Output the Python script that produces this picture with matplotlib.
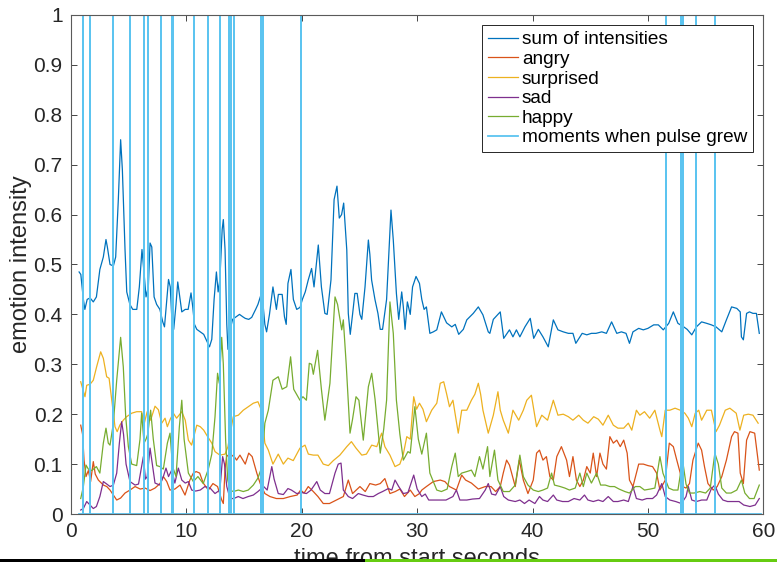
import numpy as np
import matplotlib.pyplot as plt
from matplotlib.patches import Rectangle

plt.rcParams['font.family'] = ['Liberation Sans', 'DejaVu Sans']

# sum of intensities
sum_t = [0.7, 0.85, 1.07, 1.2, 1.4, 1.65, 1.93, 2.2, 2.5, 2.8, 3.03, 3.15, 3.38, 3.67, 3.87, 4.1, 4.3, 4.45,
         4.68, 4.83, 5.1, 5.35, 5.7, 5.92, 6.15, 6.33, 6.5, 6.7, 6.85, 7.0, 7.2, 7.42, 7.7, 7.95, 8.1, 8.3,
         8.45, 8.6, 8.72, 8.9, 9.1, 9.25, 9.45, 9.6, 9.9, 10.15, 10.4, 10.55, 10.7, 10.9, 11.2, 11.5, 11.8,
         12.0, 12.2, 12.4, 12.6, 12.75, 12.9, 13.1, 13.2, 13.35, 13.5, 13.6, 13.8, 14.0, 14.3, 14.6, 14.9,
         15.1, 15.4, 15.66, 16.0, 16.2, 16.5, 16.6, 16.8, 16.95, 17.2, 17.5, 17.8, 17.97, 18.3, 18.5, 18.65,
         18.8, 19.06, 19.27, 19.56, 19.85, 20.05, 20.3, 20.56, 20.85, 21.06, 21.43, 21.7, 22.0, 22.2, 22.53,
         22.8, 23.05, 23.25, 23.45, 23.63, 23.9, 24.03, 24.2, 24.4, 24.6, 24.8, 25.04, 25.2, 25.48, 25.77,
         25.9, 26.05, 26.34, 26.6, 26.8, 27.0, 27.35, 27.73, 27.93, 28.2, 28.4, 28.66, 28.8, 28.95, 29.15,
         29.4, 29.6, 29.9, 30.2, 30.4, 30.6, 30.8, 31.1, 31.4, 31.7, 32.1, 32.55, 33.0, 33.3, 33.6, 34.0,
         34.3, 34.86, 35.3, 35.7, 36.16, 36.3, 36.6, 37.0, 37.2, 37.5, 38.0, 38.3, 38.6, 38.9, 39.34, 39.8,
         40.1, 40.5, 40.9, 41.36, 41.8, 42.2, 42.66, 43.1, 43.5, 43.75, 44.3, 44.7, 45.1, 45.5, 46.0, 46.4,
         46.85, 47.3, 47.7, 48.1, 48.4, 48.7, 49.2, 49.6, 50.0, 50.5, 50.9, 51.33, 51.8, 52.2, 52.6, 53.1,
         53.4, 53.8, 54.2, 54.65, 55.1, 55.5, 55.9, 56.4, 56.8, 57.25, 57.7, 58.0, 58.1, 58.27, 58.55, 58.8,
         59.1, 59.4, 59.65]
sum_v = [0.485, 0.48, 0.43, 0.41, 0.43, 0.433, 0.425, 0.435, 0.49, 0.515, 0.55, 0.535, 0.50, 0.497, 0.515,
         0.63, 0.75, 0.69, 0.53, 0.445, 0.42, 0.41, 0.41, 0.455, 0.53, 0.483, 0.435, 0.455, 0.543, 0.535,
         0.435, 0.42, 0.41, 0.385, 0.375, 0.43, 0.47, 0.455, 0.40, 0.37, 0.42, 0.465, 0.43, 0.405, 0.41,
         0.41, 0.443, 0.415, 0.38, 0.37, 0.365, 0.36, 0.345, 0.335, 0.35, 0.43, 0.485, 0.445, 0.47, 0.57,
         0.59, 0.53, 0.38, 0.33, 0.37, 0.39, 0.395, 0.40, 0.395, 0.392, 0.39, 0.394, 0.41, 0.42, 0.442,
         0.43, 0.38, 0.365, 0.40, 0.455, 0.41, 0.44, 0.44, 0.395, 0.38, 0.462, 0.49, 0.43, 0.41, 0.414,
         0.43, 0.445, 0.469, 0.492, 0.455, 0.539, 0.455, 0.402, 0.40, 0.469, 0.63, 0.657, 0.593, 0.60,
         0.623, 0.529, 0.402, 0.36, 0.40, 0.442, 0.442, 0.40, 0.39, 0.455, 0.549, 0.52, 0.469, 0.43, 0.402,
         0.37, 0.37, 0.43, 0.609, 0.549, 0.442, 0.39, 0.445, 0.415, 0.37, 0.425, 0.40, 0.455, 0.476, 0.462,
         0.43, 0.41, 0.415, 0.362, 0.365, 0.369, 0.405, 0.383, 0.375, 0.38, 0.36, 0.37, 0.389, 0.402, 0.415,
         0.399, 0.365, 0.362, 0.39, 0.40, 0.405, 0.352, 0.369, 0.355, 0.369, 0.355, 0.375, 0.392, 0.352,
         0.37, 0.355, 0.335, 0.389, 0.369, 0.365, 0.362, 0.362, 0.342, 0.362, 0.359, 0.362, 0.362, 0.365,
         0.362, 0.385, 0.362, 0.365, 0.362, 0.342, 0.365, 0.372, 0.369, 0.372, 0.379, 0.379, 0.369, 0.382,
         0.405, 0.382, 0.375, 0.37, 0.359, 0.375, 0.385, 0.382, 0.379, 0.375, 0.365, 0.389, 0.415, 0.412,
         0.405, 0.355, 0.349, 0.402, 0.405, 0.402, 0.402, 0.362]

# angry
angry_t = [0.84, 1.0, 1.13, 1.3, 1.5, 1.7, 1.93, 2.1, 2.37, 2.8, 3.1, 3.38, 3.67, 3.96, 4.3, 4.68, 5.11, 5.55,
           6.0, 6.41, 6.85, 7.28, 7.71, 8.0, 8.3, 8.58, 9.0, 9.45, 9.88, 10.3, 10.6, 10.85, 11.15, 11.46,
           11.9, 12.3, 12.7, 13.06, 13.2, 13.35, 13.5, 13.8, 14.06, 14.35, 14.64, 15.1, 15.4, 15.7, 16.1,
           16.4, 16.8, 17.24, 17.8, 18.4, 19.0, 19.6, 19.9, 20.2, 20.56, 21.0, 21.4, 21.86, 22.4, 23.0, 23.6,
           24.03, 24.4, 25.04, 25.5, 25.9, 26.4, 26.8, 27.2, 27.64, 28.1, 28.5, 28.9, 29.4, 29.8, 30.2, 30.4,
           30.8, 31.4, 32.0, 32.4, 32.8, 33.4, 33.86, 34.2, 34.7, 35.3, 35.9, 36.4, 36.8, 37.2, 37.46, 37.75,
           38.0, 38.5, 38.85, 39.2, 39.6, 40.06, 40.35, 40.6, 40.9, 41.2, 41.5, 41.8, 42.1, 42.5, 42.95, 43.2,
           43.5, 43.8, 44.1, 44.4, 44.7, 45.0, 45.26, 45.55, 45.84, 46.1, 46.4, 46.7, 47.0, 47.3, 47.6, 47.9,
           48.2, 48.4, 48.7, 49.2, 49.6, 50.0, 50.4, 50.75, 51.04, 51.5, 51.85, 52.2, 52.5, 52.8, 53.0, 53.3,
           53.6, 53.9, 54.36, 54.65, 54.9, 55.2, 55.66, 56.0, 56.4, 56.8, 57.25, 57.5, 57.8, 58.0, 58.27,
           58.55, 58.84, 59.25, 59.47, 59.65]
angry_v = [0.178, 0.16, 0.108, 0.075, 0.087, 0.065, 0.105, 0.08, 0.068, 0.058, 0.055, 0.048, 0.038, 0.028,
           0.032, 0.042, 0.048, 0.055, 0.05, 0.052, 0.047, 0.052, 0.061, 0.075, 0.065, 0.048, 0.05, 0.058,
           0.038, 0.068, 0.082, 0.085, 0.082, 0.062, 0.048, 0.061, 0.055, 0.028, 0.021, 0.09, 0.118, 0.113,
           0.118, 0.108, 0.118, 0.10, 0.122, 0.115, 0.082, 0.061, 0.041, 0.035, 0.031, 0.031, 0.035, 0.038,
           0.048, 0.042, 0.055, 0.045, 0.035, 0.021, 0.021, 0.028, 0.035, 0.068, 0.041, 0.055, 0.045, 0.061,
           0.058, 0.061, 0.071, 0.041, 0.045, 0.05, 0.035, 0.048, 0.035, 0.041, 0.048, 0.055, 0.065, 0.068,
           0.065, 0.055, 0.048, 0.078, 0.068, 0.062, 0.05, 0.055, 0.055, 0.045, 0.055, 0.082, 0.108, 0.098,
           0.055, 0.108, 0.068, 0.041, 0.068, 0.122, 0.128, 0.108, 0.115, 0.075, 0.068, 0.115, 0.135, 0.108,
           0.075, 0.115, 0.068, 0.055, 0.068, 0.095, 0.082, 0.122, 0.075, 0.122, 0.1, 0.09, 0.155, 0.142,
           0.148, 0.135, 0.148, 0.122, 0.068, 0.055, 0.10, 0.10, 0.097, 0.095, 0.082, 0.048, 0.068, 0.142,
           0.135, 0.108, 0.082, 0.055, 0.052, 0.061, 0.108, 0.142, 0.128, 0.095, 0.061, 0.048, 0.055, 0.075,
           0.108, 0.155, 0.165, 0.162, 0.082, 0.061, 0.148, 0.165, 0.162, 0.122, 0.088]

# surprised
surprised_t = [0.84, 1.21, 1.36, 1.65, 1.93, 2.22, 2.57, 2.8, 3.09, 3.3, 3.6, 3.81, 4.0, 4.23, 4.53, 4.82, 5.26,
               5.69, 6.12, 6.33, 6.6, 6.9, 7.28, 7.57, 7.86, 8.15, 8.35, 8.6, 8.87, 9.15, 9.6, 9.9, 10.17,
               10.45, 10.9, 11.2, 11.5, 11.76, 12.2, 12.48, 12.9, 13.35, 13.6, 14.06, 14.5, 14.93, 15.36, 15.8,
               16.2, 16.5, 16.8, 17.1, 17.5, 17.96, 18.4, 18.8, 19.26, 19.84, 20.28, 20.57, 21.0, 21.4, 21.86,
               22.3, 22.73, 23.3, 23.9, 24.3, 24.7, 25.2, 25.6, 26.06, 26.5, 26.92, 27.2, 27.64, 28.08, 28.5,
               28.8, 29.1, 29.4, 29.7, 29.95, 30.2, 30.5, 30.8, 31.26, 31.7, 32.0, 32.3, 32.56, 32.8, 33.1,
               33.56, 33.86, 34.3, 34.7, 35.0, 35.3, 35.5, 35.7, 36.16, 36.6, 37.0, 37.2, 37.46, 37.9, 38.3,
               38.8, 39.2, 39.5, 39.9, 40.35, 40.8, 41.3, 41.8, 42.2, 42.66, 43.1, 43.5, 44.0, 44.4, 44.8, 45.3,
               45.7, 46.1, 46.56, 47.0, 47.4, 47.9, 48.3, 48.6, 49.0, 49.3, 49.7, 50.15, 50.6, 51.04, 51.2,
               51.5, 51.9, 52.35, 52.8, 53.2, 53.5, 53.8, 54.1, 54.4, 54.65, 55.1, 55.5, 55.9, 56.2, 56.7, 57.1,
               57.65, 57.97, 58.3, 58.7, 59.1, 59.55]
surprised_v = [0.265, 0.235, 0.258, 0.26, 0.268, 0.295, 0.325, 0.312, 0.275, 0.272, 0.215, 0.175, 0.165, 0.178,
               0.188, 0.195, 0.202, 0.205, 0.205, 0.18, 0.205, 0.188, 0.216, 0.209, 0.182, 0.192, 0.175, 0.19,
               0.202, 0.192, 0.205, 0.188, 0.148, 0.138, 0.178, 0.175, 0.168, 0.158, 0.142, 0.125, 0.118, 0.12,
               0.135, 0.195, 0.198, 0.208, 0.215, 0.222, 0.225, 0.208, 0.142, 0.128, 0.10, 0.12, 0.10, 0.112,
               0.107, 0.132, 0.138, 0.12, 0.118, 0.118, 0.10, 0.097, 0.107, 0.118, 0.135, 0.145, 0.132, 0.118,
               0.12, 0.138, 0.135, 0.162, 0.135, 0.118, 0.095, 0.10, 0.12, 0.155, 0.15, 0.235, 0.21, 0.222,
               0.21, 0.185, 0.208, 0.222, 0.262, 0.265, 0.24, 0.215, 0.228, 0.162, 0.208, 0.208, 0.228, 0.24,
               0.262, 0.24, 0.208, 0.162, 0.198, 0.245, 0.208, 0.188, 0.162, 0.208, 0.188, 0.208, 0.228, 0.238,
               0.175, 0.198, 0.188, 0.228, 0.198, 0.20, 0.195, 0.188, 0.198, 0.188, 0.182, 0.195, 0.19, 0.178,
               0.198, 0.178, 0.172, 0.172, 0.182, 0.168, 0.208, 0.198, 0.205, 0.192, 0.208, 0.168, 0.155, 0.208,
               0.208, 0.212, 0.208, 0.202, 0.192, 0.175, 0.202, 0.208, 0.188, 0.208, 0.208, 0.165, 0.178, 0.208,
               0.212, 0.202, 0.168, 0.198, 0.20, 0.198, 0.182]

# sad
sad_t = [0.84, 1.07, 1.36, 1.65, 1.93, 2.2, 2.5, 2.8, 3.1, 3.38, 3.67, 3.96, 4.19, 4.39, 4.55, 4.77, 5.11, 5.55,
         5.85, 6.12, 6.27, 6.45, 6.6, 6.85, 7.05, 7.28, 7.71, 8.0, 8.23, 8.45, 8.73, 9.0, 9.3, 9.6, 9.9, 10.17,
         10.46, 10.8, 11.2, 11.6, 12.05, 12.48, 12.9, 13.14, 13.3, 13.5, 13.78, 14.1, 14.5, 14.9, 15.36, 15.8,
         16.2, 16.7, 17.0, 17.4, 17.6, 17.96, 18.4, 18.8, 19.1, 19.56, 20.0, 20.4, 20.8, 21.3, 21.6, 22.0,
         22.4, 22.88, 23.16, 23.4, 23.6, 24.03, 24.4, 24.9, 25.3, 25.77, 26.2, 26.63, 27.0, 27.5, 27.8, 28.08,
         28.4, 28.8, 29.2, 29.7, 30.0, 30.4, 30.7, 31.0, 31.5, 32.0, 32.5, 33.1, 33.4, 33.7, 34.3, 34.8, 35.4,
         35.9, 36.16, 36.45, 36.8, 37.2, 37.5, 37.9, 38.5, 38.9, 39.3, 39.7, 40.2, 40.6, 40.9, 41.3, 41.8,
         42.1, 42.6, 43.1, 43.6, 44.1, 44.5, 44.8, 45.26, 45.7, 46.1, 46.56, 47.0, 47.4, 47.9, 48.3, 48.7,
         49.0, 49.5, 49.9, 50.4, 50.75, 51.2, 51.5, 51.9, 52.4, 52.9, 53.3, 53.5, 53.8, 54.2, 54.65, 55.1,
         55.5, 55.8, 56.1, 56.5, 56.9, 57.4, 57.9, 58.3, 58.84, 59.3, 59.65]
sad_v = [0.008, 0.011, 0.025, 0.018, 0.011, 0.015, 0.035, 0.065, 0.06, 0.055, 0.058, 0.082, 0.142, 0.185, 0.16,
         0.10, 0.065, 0.058, 0.06, 0.095, 0.115, 0.07, 0.075, 0.132, 0.10, 0.062, 0.058, 0.075, 0.092, 0.075,
         0.088, 0.062, 0.092, 0.068, 0.062, 0.065, 0.048, 0.046, 0.048, 0.055, 0.052, 0.041, 0.048, 0.115, 0.10,
         0.055, 0.031, 0.031, 0.035, 0.031, 0.035, 0.038, 0.045, 0.055, 0.048, 0.095, 0.07, 0.041, 0.039,
         0.051, 0.048, 0.041, 0.043, 0.041, 0.048, 0.065, 0.048, 0.041, 0.041, 0.082, 0.10, 0.102, 0.048,
         0.035, 0.031, 0.041, 0.038, 0.035, 0.035, 0.041, 0.045, 0.051, 0.048, 0.068, 0.055, 0.041, 0.043,
         0.078, 0.05, 0.035, 0.04, 0.028, 0.028, 0.028, 0.028, 0.035, 0.048, 0.028, 0.028, 0.03, 0.031, 0.048,
         0.061, 0.04, 0.038, 0.055, 0.035, 0.028, 0.025, 0.028, 0.021, 0.028, 0.021, 0.035, 0.028, 0.025,
         0.038, 0.028, 0.025, 0.025, 0.031, 0.028, 0.038, 0.028, 0.025, 0.028, 0.025, 0.035, 0.025, 0.025,
         0.028, 0.025, 0.055, 0.031, 0.028, 0.031, 0.031, 0.038, 0.061, 0.035, 0.028, 0.025, 0.021, 0.035,
         0.055, 0.028, 0.025, 0.028, 0.028, 0.051, 0.058, 0.04, 0.028, 0.025, 0.025, 0.025, 0.018, 0.015,
         0.018, 0.031]

# happy
happy_t = [0.84, 1.07, 1.3, 1.5, 1.8, 2.2, 2.5, 2.8, 3.03, 3.23, 3.38, 3.67, 3.96, 4.3, 4.53, 4.74, 4.97, 5.26,
           5.69, 5.98, 6.12, 6.33, 6.5, 6.65, 6.9, 7.13, 7.42, 7.7, 8.0, 8.35, 8.58, 8.8, 9.1, 9.39, 9.6, 9.8,
           10.17, 10.6, 11.0, 11.46, 11.9, 12.2, 12.48, 12.7, 12.85, 13.06, 13.2, 13.4, 13.58, 13.78, 14.06,
           14.5, 14.93, 15.36, 15.8, 16.2, 16.5, 16.8, 17.1, 17.5, 17.96, 18.3, 18.7, 19.03, 19.3, 19.84, 20.1,
           20.4, 20.65, 20.85, 21.0, 21.37, 21.7, 22.0, 22.44, 22.88, 23.1, 23.46, 23.6, 23.85, 24.18, 24.4,
           24.7, 24.95, 25.33, 25.77, 26.06, 26.35, 26.8, 27.1, 27.35, 27.64, 27.93, 28.2, 28.5, 28.8, 29.2,
           29.4, 29.8, 30.1, 30.4, 30.8, 31.1, 31.7, 32.1, 32.6, 33.0, 33.3, 33.56, 33.86, 34.3, 34.7, 35.0,
           35.4, 35.7, 36.1, 36.3, 36.7, 37.0, 37.46, 38.0, 38.5, 38.9, 39.2, 39.6, 40.06, 40.5, 40.9, 41.3,
           41.65, 41.9, 42.4, 42.8, 43.2, 43.7, 44.1, 44.4, 44.7, 45.1, 45.55, 45.9, 46.3, 46.7, 47.1, 47.5,
           48.0, 48.4, 48.9, 49.3, 49.7, 50.2, 50.6, 51.04, 51.3, 51.8, 52.2, 52.6, 53.0, 53.3, 53.6, 54.0,
           54.5, 55.0, 55.4, 55.8, 56.1, 56.4, 56.8, 57.2, 57.7, 58.1, 58.4, 58.8, 59.2, 59.65]
happy_v = [0.031, 0.055, 0.098, 0.09, 0.087, 0.095, 0.082, 0.142, 0.172, 0.142, 0.138, 0.182, 0.268, 0.354,
           0.295, 0.195, 0.135, 0.10, 0.097, 0.15, 0.202, 0.142, 0.15, 0.16, 0.208, 0.15, 0.097, 0.095, 0.09,
           0.142, 0.162, 0.095, 0.075, 0.175, 0.228, 0.15, 0.082, 0.065, 0.075, 0.061, 0.09, 0.12, 0.195, 0.282,
           0.262, 0.354, 0.30, 0.148, 0.068, 0.048, 0.045, 0.048, 0.045, 0.048, 0.058, 0.072, 0.092, 0.182,
           0.208, 0.268, 0.275, 0.25, 0.255, 0.315, 0.25, 0.228, 0.235, 0.228, 0.302, 0.30, 0.28, 0.328, 0.25,
           0.188, 0.262, 0.435, 0.42, 0.369, 0.389, 0.30, 0.162, 0.19, 0.235, 0.228, 0.148, 0.255, 0.282, 0.23,
           0.122, 0.17, 0.228, 0.425, 0.362, 0.228, 0.16, 0.108, 0.125, 0.122, 0.215, 0.15, 0.12, 0.162, 0.082,
           0.048, 0.045, 0.05, 0.095, 0.122, 0.075, 0.082, 0.085, 0.088, 0.075, 0.115, 0.09, 0.135, 0.075,
           0.128, 0.068, 0.045, 0.045, 0.058, 0.118, 0.075, 0.058, 0.048, 0.045, 0.048, 0.052, 0.082, 0.058,
           0.055, 0.052, 0.048, 0.052, 0.082, 0.055, 0.082, 0.062, 0.082, 0.058, 0.058, 0.055, 0.055, 0.05,
           0.045, 0.042, 0.055, 0.055, 0.048, 0.05, 0.052, 0.115, 0.082, 0.052, 0.048, 0.048, 0.108, 0.06,
           0.042, 0.042, 0.045, 0.042, 0.052, 0.122, 0.10, 0.052, 0.042, 0.042, 0.048, 0.068, 0.042, 0.031,
           0.031, 0.058]

# moments when pulse grew (seconds)
pulse_moments = [1.04, 1.65, 3.62, 5.12, 6.33, 6.70, 7.83, 8.79, 8.87, 10.64, 11.88, 12.9, 13.73, 13.85,
                 14.14, 16.5, 16.6, 19.97, 51.58, 52.88, 53.02, 54.15, 55.85]
pulse_start, pulse_end = 0.7, 59.8

# pulse signal: 0 everywhere, jumps to 1 at each moment
px = [pulse_start]
py = [0]
for m in pulse_moments:
    px += [m, m, m]
    py += [0, 1, 0]
px.append(pulse_end)
py.append(0)

fig = plt.figure(figsize=(7.77, 5.62), dpi=100)
ax = fig.add_axes([0.0914, 0.0854, 0.891, 0.888])

lw = 0.9
ax.plot(sum_t, sum_v, color='#0072BD', lw=lw, label='sum of intensities')
ax.plot(angry_t, angry_v, color='#D95319', lw=lw, label='angry')
ax.plot(surprised_t, surprised_v, color='#EDB120', lw=lw, label='surprised')
ax.plot(sad_t, sad_v, color='#7E2F8E', lw=lw, label='sad')
ax.plot(happy_t, happy_v, color='#77AC30', lw=lw, label='happy')
ax.plot(px, py, color='#5cc4f0', lw=1.3, label='moments when pulse grew')

ax.set_xlim(0, 60)
ax.set_ylim(0, 1)
ax.set_xticks(np.arange(0, 61, 10))
ax.set_yticks(np.arange(0, 1.01, 0.1))
ax.set_yticklabels(['0', '0.1', '0.2', '0.3', '0.4', '0.5', '0.6', '0.7', '0.8', '0.9', '1'])
ax.tick_params(direction='in', length=4, width=0.6, top=True, right=True, labelsize=15, pad=6,
               colors='#262626')
for s in ax.spines.values():
    s.set_color('#5a5a5a')
    s.set_linewidth(0.8)

# the label sits partly below the figure edge, as in the source screenshot
ax.set_xlabel('time from start seconds', fontsize=17, color='#262626', labelpad=5)
ax.set_ylabel('emotion intensity', fontsize=17, color='#262626', labelpad=1)

leg = ax.legend(loc='upper right', fontsize=13.7, frameon=True, fancybox=False, framealpha=1,
                edgecolor='#262626', borderaxespad=0.55, handlelength=1.6, handletextpad=0.2,
                labelspacing=0.12, borderpad=0.3)
leg.get_frame().set_linewidth(0.7)

# screenshot edge strips at the bottom
fig.add_artist(Rectangle((0, 0), 365 / 777, 3 / 562, transform=fig.transFigure, color='black', lw=0))
fig.add_artist(Rectangle((365 / 777, 0), 412 / 777, 3 / 562, transform=fig.transFigure, color='#66cc11', lw=0))

plt.savefig('out.png', dpi=100)
